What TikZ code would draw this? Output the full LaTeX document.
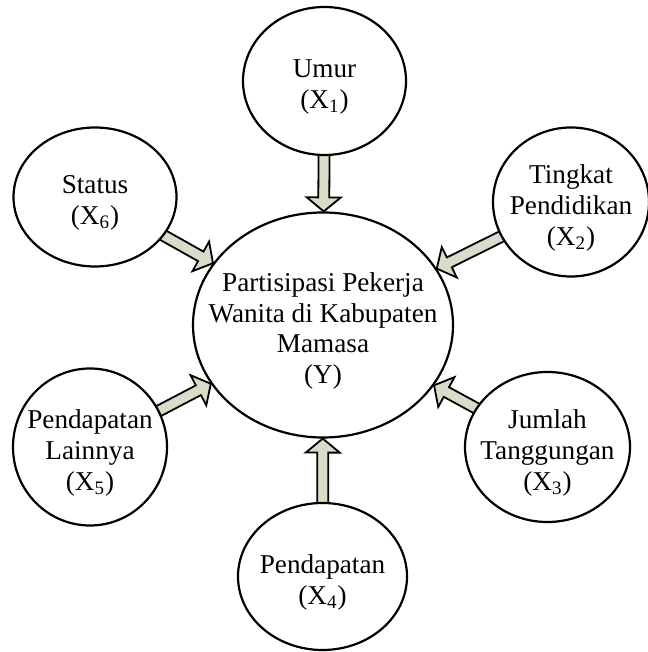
\documentclass[tikz,border=0pt]{standalone}
\usepackage{fontspec}
\setmainfont{Liberation Serif}
\usetikzlibrary{shapes.geometric,calc,backgrounds}
\definecolor{arrowfill}{RGB}{216,220,200}

\begin{document}
\begin{tikzpicture}[x=1pt,y=1pt,
                var/.style n args={2}{ellipse,draw,fill=white,
                    line width=1.1pt,
                    minimum width=#1pt,
                    minimum height=#2pt,
                    inner sep=0pt},
                txt/.style={font=\fontsize{13.6pt}{15.3pt}\selectfont,
                    align=center,yshift=-3pt},
                blockarrow/.style={draw,line width=0.9pt,fill=arrowfill,line join=miter}]
                \useasboundingbox (0,0) rectangle (323.5,326);
                \node[var={130}{112.5},label={[txt]center:{Partisipasi Pekerja\\Wanita di Kabupaten\\Mamasa\\(Y)}}](part) at (161.5,163.5) {};
                \node[var={81.5}{74},label={[txt]center:{Umur\\(X\textsubscript{1})}}](umur) at (162.25,285.5) {};
                \node[var={78}{74.5},label={[txt]center:{Tingkat\\Pendidikan\\(X\textsubscript{2})}}](tingkat) at (285.5,225) {};
                \node[var={82.5}{75},label={[txt]center:{Jumlah\\Tanggungan\\(X\textsubscript{3})}}](jumlah) at (273.75,102.5) {};
                \node[var={84.5}{73.5},label={[txt]center:{Pendapatan\\(X\textsubscript{4})}}](pendapatan) at (161.25,37.75) {};
                \node[var={77}{78.5},label={[txt]center:{Pendapatan\\Lainnya\\(X\textsubscript{5})}}](lainnya) at (45,102.5) {};
                \node[var={81.5}{69.5},label={[txt]center:{Status\\(X\textsubscript{6})}}](status) at (47.5,227.5) {};
                \begin{scope}[on background layer]
                    \foreach \src in {umur,tingkat,jumlah,pendapatan,lainnya,status}{
                        \path (\src) -- (part) coordinate[pos=0] (s0) coordinate[pos=1] (e);
                        \coordinate (s) at ($(s0)!-3pt!(e)$);
                        \coordinate (hb) at ($(e)!7pt!(s)$);
                        \draw[blockarrow] ($(s)!2.75pt!90:(e)$) -- ($(hb)!2.75pt!90:(e)$)
                            -- ($(hb)!8.5pt!90:(e)$) -- (e) -- ($(hb)!8.5pt!-90:(e)$)
                            -- ($(hb)!2.75pt!-90:(e)$) -- ($(s)!2.75pt!-90:(e)$) -- cycle;
                    }
                \end{scope}
            \end{tikzpicture}
\end{document}
